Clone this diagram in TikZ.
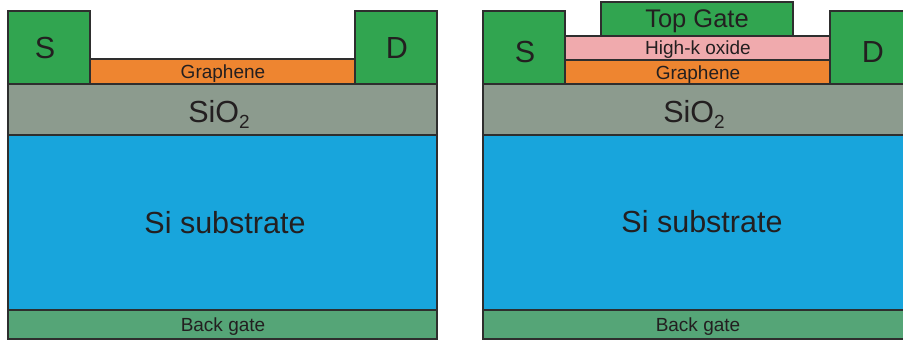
\documentclass[tikz,border=0pt]{standalone}
\usepackage{fontspec}
\setmainfont{Liberation Sans}
\definecolor{linec}{HTML}{2E2E2E}
\definecolor{txtc}{HTML}{231F20}
\definecolor{contact}{HTML}{31A550}
\definecolor{graph}{HTML}{EE8530}
\definecolor{oxide}{HTML}{8C9B8E}
\definecolor{subst}{HTML}{18A5DC}
\definecolor{bgate}{HTML}{55A577}
\definecolor{highk}{HTML}{F0AAAD}
\tikzset{
  layer/.style={draw=linec, line width=1.8pt},
  lbl/.style={text=txtc, inner sep=0pt, anchor=base},
  big/.style={lbl, font=\fontsize{30.5}{30.5}\selectfont},
  mid/.style={lbl, font=\fontsize{25.5}{25.5}\selectfont},
  small/.style={lbl, font=\fontsize{19}{19}\selectfont}
}
\newcommand{\subtwo}{\raisebox{-6pt}{\fontsize{19}{19}\selectfont 2}}
\begin{document}
\begin{tikzpicture}[x=1pt,y=-1pt]
\useasboundingbox (0,0) rectangle (903,343);
% ---------- left device ----------
\path[layer, fill=bgate] (8,310) rectangle (437,339);
\path[layer, fill=subst] (8,135) rectangle (437,310);
\path[layer, fill=oxide] (8,84) rectangle (437,135);
\path[layer, fill=graph] (90,59) rectangle (355,84);
\path[layer, fill=contact] (8,11) rectangle (90,84);
\path[layer, fill=contact] (355,11) rectangle (437,84);
\node[big] (lS) at (45,58) {S};
\node[big] (lD) at (397,58) {D};
\node[small] (lG) at (223,78) {Graphene};
\node[big] (lO) at (219,122) {SiO\subtwo};
\node[big] (lSub) at (225,233) {Si substrate};
\node[small] (lB) at (223,331) {Back gate};
% ---------- right device ----------
\path[layer, fill=bgate] (483,310) rectangle (912,339);
\path[layer, fill=subst] (483,135) rectangle (912,310);
\path[layer, fill=oxide] (483,84) rectangle (912,135);
\path[layer, fill=graph] (565,60) rectangle (830,84);
\path[layer, fill=highk] (565,36) rectangle (830,60);
\path[layer, fill=contact] (601,2) rectangle (793,36);
\path[layer, fill=contact] (483,11) rectangle (565,84);
\path[layer, fill=contact] (830,11) rectangle (912,84);
\node[big] (rS) at (525,62) {S};
\node[big] (rD) at (873,62) {D};
\node[mid] (rT) at (697,27) {Top Gate};
\node[small] (rH) at (698,54) {High-k oxide};
\node[small] (rG) at (698,79) {Graphene};
\node[big] (rO) at (694,122) {SiO\subtwo};
\node[big] (rSub) at (702,232) {Si substrate};
\node[small] (rB) at (698,331) {Back gate};
\end{tikzpicture}
\end{document}
